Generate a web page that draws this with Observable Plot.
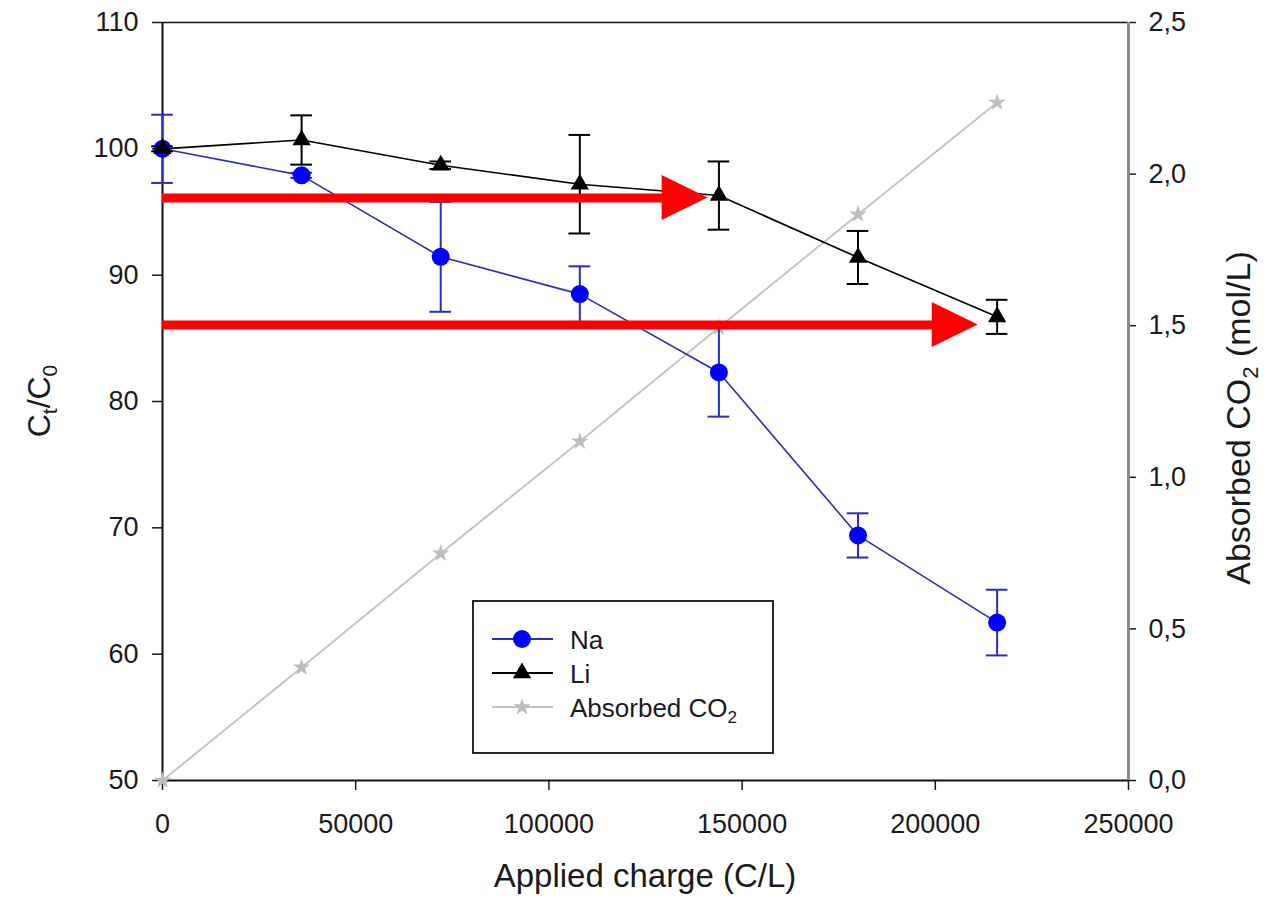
<!DOCTYPE html>
<html>
<head>
<meta charset="utf-8">
<script src="https://cdn.jsdelivr.net/npm/d3@7"></script>
<script src="https://cdn.jsdelivr.net/npm/@observablehq/plot@0.6"></script>
<style>
  html, body { margin: 0; padding: 0; background: #fff; }
  #chart svg { display: block; }
</style>
</head>
<body>
<div id="chart"></div>
<script>
// ---- data ----
const charge = [0, 36000, 72000, 108000, 144000, 180000, 216000];
const naValues = [100, 97.9, 91.45, 88.5, 82.3, 69.4, 62.5];
const naErrors = [2.7, 0.2, 4.35, 2.2, 3.5, 1.75, 2.6];
const liValues = [100, 100.7, 98.7, 97.2, 96.3, 91.4, 86.7];
const liErrors = [0.2, 1.95, 0.3, 3.9, 2.7, 2.1, 1.35];
const co2Values = [0, 0.373, 0.749, 1.118, 1.494, 1.867, 2.236];

const xTicks = [0, 50000, 100000, 150000, 200000, 250000];
const yTicks = [50, 60, 70, 80, 90, 100, 110];
const rightTicks = [0, 0.5, 1.0, 1.5, 2.0, 2.5];

// red annotation arrows (data coordinates)
const arrowY = [96.1, 86.06];
const arrowHeadBase = [129300, 199200];
const arrowTip = [141200, 211100];

// ---- mapping of the right axis onto the left scale ----
const yMin = 50, yMax = 110, rMax = 2.5;
const toLeft = v => yMin + v * (yMax - yMin) / rMax;
const toRight = v => (v - yMin) * rMax / (yMax - yMin);

const na = charge.map((x, i) => ({x, y: naValues[i], e: naErrors[i]}));
const li = charge.map((x, i) => ({x, y: liValues[i], e: liErrors[i]}));
const co2 = charge.map((x, i) => ({x, y: toLeft(co2Values[i])}));
const arrows = arrowY.map((y, i) => ({y, base: arrowHeadBase[i], tip: arrowTip[i], id: i}));
const headHalf = 1.78; // half height of arrow head, in y units
const heads = arrows.flatMap(a => [
  {id: a.id, x: a.base, y1: a.y - headHalf, y2: a.y + headHalf},
  {id: a.id, x: a.tip, y1: a.y, y2: a.y}
]);
const capHalf = 2800; // half width of error-bar caps, in x units

const naBlue = "#0000ff";
const naLine = "#2b2bc4";
const grey = "#c4c4c4";
const font = "'Liberation Sans', Arial, sans-serif";

const chart = Plot.plot({
  width: 1268,
  height: 907,
  marginLeft: 162,
  marginRight: 140,
  marginTop: 22,
  marginBottom: 127,
  x: {domain: [0, 250000]},
  y: {domain: [yMin, yMax]},
  style: {fontFamily: font, fontSize: "27px", background: "#fff", color: "#1a1a1a"},
  marks: [
    Plot.axisX({ticks: xTicks, tickSize: 10, tickPadding: 23, tickFormat: d => String(d), label: null, fontSize: 27, strokeWidth: 1.5}),
    Plot.axisY({ticks: yTicks, anchor: "left", tickSize: 10, tickPadding: 14, label: null, fontSize: 27, strokeWidth: 1.5}),
    Plot.axisY({ticks: rightTicks.map(toLeft), anchor: "right", tickSize: 7, tickPadding: 13, label: null, fontSize: 27, strokeWidth: 1.5,
      tickFormat: v => toRight(v).toFixed(1).replace(".", ",")}),
    // frame
    Plot.ruleY([yMax], {stroke: "#111", strokeWidth: 1.5}),
    Plot.ruleY([yMin], {stroke: "#111", strokeWidth: 2}),
    Plot.ruleX([0], {stroke: "#111", strokeWidth: 2}),
    Plot.ruleX([250000], {stroke: "#8a8a8a", strokeWidth: 3}),
    // absorbed CO2
    Plot.line(co2, {x: "x", y: "y", stroke: grey, strokeWidth: 2}),
    Plot.dot(co2, {x: "x", y: "y", symbol: "star", r: 5.5, fill: "#bdbdbd", stroke: "none"}),
    // Na
    Plot.line(na, {x: "x", y: "y", stroke: naLine, strokeWidth: 1.6}),
    Plot.ruleX(na, {x: "x", y1: d => d.y - d.e, y2: d => d.y + d.e, stroke: naLine, strokeWidth: 2}),
    Plot.ruleY(na, {y: d => d.y - d.e, x1: d => d.x - capHalf, x2: d => d.x + capHalf, stroke: naLine, strokeWidth: 2}),
    Plot.ruleY(na, {y: d => d.y + d.e, x1: d => d.x - capHalf, x2: d => d.x + capHalf, stroke: naLine, strokeWidth: 2}),
    Plot.dot(na, {x: "x", y: "y", r: 9, fill: naBlue, stroke: "none"}),
    // Li
    Plot.line(li, {x: "x", y: "y", stroke: "#000", strokeWidth: 1.6}),
    Plot.ruleX(li, {x: "x", y1: d => d.y - d.e, y2: d => d.y + d.e, stroke: "#000", strokeWidth: 2}),
    Plot.ruleY(li, {y: d => d.y - d.e, x1: d => d.x - capHalf, x2: d => d.x + capHalf, stroke: "#000", strokeWidth: 2}),
    Plot.ruleY(li, {y: d => d.y + d.e, x1: d => d.x - capHalf, x2: d => d.x + capHalf, stroke: "#000", strokeWidth: 2}),
    Plot.dot(li, {x: "x", y: "y", symbol: "triangle", r: 6.8, fill: "#000", stroke: "none"}),
    // red arrows
    Plot.ruleY(arrows, {y: "y", x1: 0, x2: d => d.base + 800, stroke: "#ff0000", strokeWidth: 9}),
    Plot.areaY(heads, {x: "x", y1: "y1", y2: "y2", z: "id", fill: "#ff0000", curve: "linear"})
  ]
});

document.getElementById("chart").appendChild(chart);

// ---- titles and legend ----
const svg = d3.select(chart);

svg.append("text")
  .attr("x", 645).attr("y", 887)
  .attr("text-anchor", "middle")
  .attr("font-family", font).attr("font-size", 33).attr("fill", "#1a1a1a")
  .text("Applied charge (C/L)");

const lt = svg.append("text")
  .attr("transform", "translate(50,401) rotate(-90)")
  .attr("text-anchor", "middle")
  .attr("font-family", font).attr("font-size", 32).attr("fill", "#1a1a1a");
lt.append("tspan").text("C");
lt.append("tspan").attr("font-size", 21).attr("dy", 7).text("t");
lt.append("tspan").attr("dy", -7).text("/C");
lt.append("tspan").attr("font-size", 21).attr("dy", 7).text("0");

const rt = svg.append("text")
  .attr("transform", "translate(1250,418) rotate(-90)")
  .attr("text-anchor", "middle")
  .attr("font-family", font).attr("font-size", 34).attr("fill", "#1a1a1a");
rt.append("tspan").text("Absorbed CO");
rt.append("tspan").attr("font-size", 22).attr("dy", 8).text("2");
rt.append("tspan").attr("dy", -8).text(" (mol/L)");

// legend
const lg = svg.append("g").attr("text-anchor", "start");
lg.append("rect").attr("x", 473).attr("y", 601).attr("width", 300).attr("height", 152)
  .attr("fill", "#fff").attr("stroke", "#111").attr("stroke-width", 1.8);
const entries = [
  {label: "Na", y: 639, stroke: naLine, fill: naBlue, sym: d3.symbolCircle, size: Math.PI * 81},
  {label: "Li", y: 673, stroke: "#000", fill: "#000", sym: d3.symbolTriangle, size: Math.PI * 6.8 * 6.8},
  {label: "Absorbed CO", sub: "2", y: 707, stroke: grey, fill: "#bdbdbd", sym: d3.symbolStar, size: Math.PI * 5.5 * 5.5}
];
entries.forEach(e => {
  lg.append("line").attr("x1", 492).attr("x2", 553).attr("y1", e.y).attr("y2", e.y)
    .attr("stroke", e.stroke).attr("stroke-width", 2);
  lg.append("path").attr("d", d3.symbol(e.sym, e.size)())
    .attr("transform", `translate(522,${e.y})`).attr("fill", e.fill);
  const t = lg.append("text").attr("x", 570).attr("y", e.y + 10)
    .attr("text-anchor", "start")
    .attr("font-family", font).attr("font-size", 26).attr("fill", "#1a1a1a");
  t.append("tspan").text(e.label);
  if (e.sub) t.append("tspan").attr("font-size", 17).attr("dy", 6).text(e.sub);
});
</script>
</body>
</html>
